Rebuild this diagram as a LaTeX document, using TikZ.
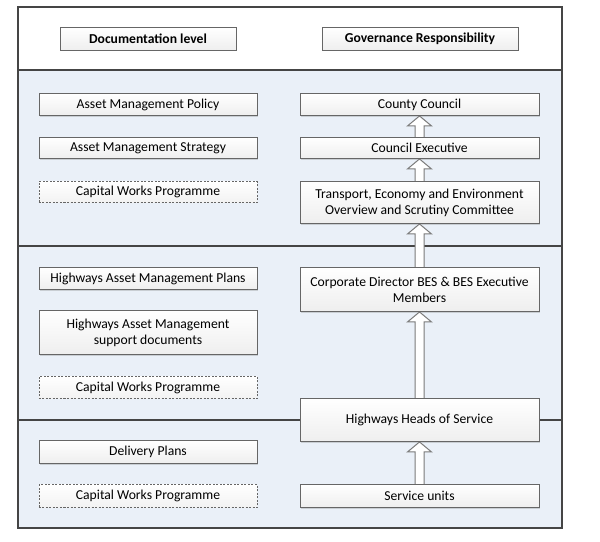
\documentclass[tikz,border=0pt]{standalone}
\usepackage{fontspec}
\setmainfont{Carlito}
\usetikzlibrary{calc,shadows}
\definecolor{secfill}{HTML}{EAF0F8}
\definecolor{framecol}{HTML}{454545}
\definecolor{boxline}{HTML}{666666}
\definecolor{arrline}{HTML}{7A7A7A}
\pgfdeclarelayer{back}
\pgfdeclarelayer{mid}
\pgfsetlayers{back,mid,main}
\tikzset{
  box/.style={draw=boxline, line width=0.9bp, top color=white, bottom color=gray!13,
    drop shadow={shadow xshift=1.2bp, shadow yshift=-1.2bp, opacity=0.3},
    inner sep=0pt, align=center, text=black, font=\fontsize{13.7}{16}\selectfont},
  dbox/.style={draw=boxline, line width=0.9bp, top color=white, bottom color=gray!10,
    dash pattern=on 2bp off 1.5bp,
    inner sep=0pt, align=center, text=black, font=\fontsize{13.7}{16}\selectfont},
  lw/.style={minimum width=218bp},
  rw/.style={minimum width=239bp},
  blk/.style={draw=arrline, fill=white, line width=1bp, line join=miter},
  framestroke/.style={draw=framecol, line width=2.2bp}
}
\newcommand{\blockup}[2]{%
  \draw[blk] ($(#1.north)+(-4.5,0)$) -- ($(#2.south)+(-4.5,10)$) -- ($(#2.south)+(-12,10)$)
    -- (#2.south) -- ($(#2.south)+(12,10)$) -- ($(#2.south)+(4.5,10)$) -- ($(#1.north)+(4.5,0)$);}
\begin{document}
\begin{tikzpicture}[x=1bp,y=-1bp]
\useasboundingbox (0,0) rectangle (600,542);
% left column
\node[box,minimum width=176bp,minimum height=23bp] (doc) at (148,38.5) {\textbf{Documentation level}};
\node[box,lw,minimum height=22bp] (amp) at (148,104.5) {Asset Management Policy};
\node[box,lw,minimum height=21bp] (ams) at (148,148) {Asset Management Strategy};
\node[dbox,lw,minimum height=21bp] (cwpa) at (148,192) {Capital Works Programme};
\node[box,lw,minimum height=22bp] (hamp) at (148,278.5) {Highways Asset Management Plans};
\node[box,lw,minimum height=44bp] (hams) at (148,332.5) {Highways Asset Management\\support documents};
\node[dbox,lw,minimum height=22bp] (cwpb) at (148,387.5) {Capital Works Programme};
\node[box,lw,minimum height=23bp] (dp) at (148,452) {Delivery Plans};
\node[dbox,lw,minimum height=23bp] (cwpc) at (148,496) {Capital Works Programme};
% right column
\node[box,minimum width=196bp,minimum height=23bp] (gov) at (420,38.5) {\textbf{Governance Responsibility}};
\node[box,rw,minimum height=22bp] (cc) at (419.5,104.5) {County Council};
\node[box,rw,minimum height=21bp] (ce) at (419.5,148) {Council Executive};
\node[box,rw,minimum height=42bp] (tee) at (419.5,202.5) {Transport, Economy and Environment\\Overview and Scrutiny Committee};
\node[box,rw,minimum height=44bp] (cd) at (419.5,289.5) {Corporate Director BES \& BES Executive\\Members};
\node[box,rw,minimum height=43bp] (hhs) at (419.5,420) {Highways Heads of Service};
\node[box,rw,minimum height=23bp] (su) at (419.5,496) {Service units};

\begin{pgfonlayer}{mid}
\blockup{ce}{cc}
\blockup{tee}{ce}
\blockup{cd}{tee}
\blockup{hhs}{cd}
\blockup{su}{hhs}
\end{pgfonlayer}

\begin{pgfonlayer}{back}
\fill[white] (18,7) rectangle (562,70);
\fill[secfill] (18,70) rectangle (562,528);
\draw[framestroke] (18,70) -- (562,70);
\draw[framestroke] (18,246) -- (562,246);
\draw[framestroke] (18,420) -- (562,420);
\draw[framestroke] (18,7) rectangle (562,528);
\end{pgfonlayer}
\end{tikzpicture}
\end{document}
